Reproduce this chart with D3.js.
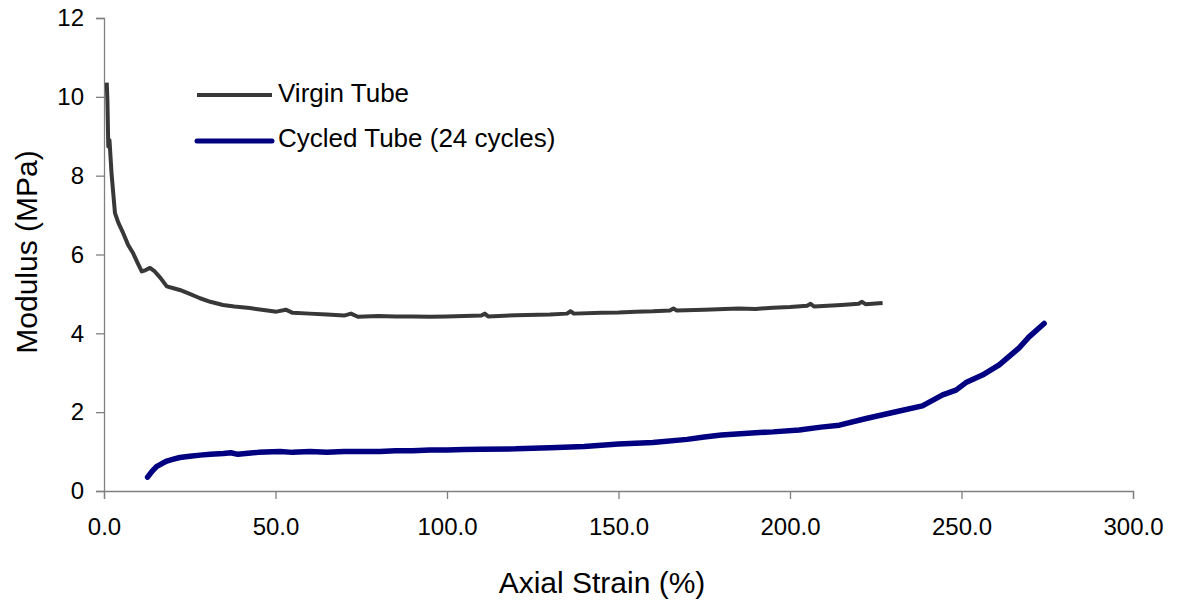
<!DOCTYPE html>
<html><head><meta charset="utf-8">
<script src="https://cdn.jsdelivr.net/npm/d3@7"></script>
<style>body{margin:0;background:#fff}svg{display:block}</style>
</head><body>
<script>
const xTicks = [0, 50, 100, 150, 200, 250, 300];
const yTicks = [0, 2, 4, 6, 8, 10, 12];
const seriesNames = ["Virgin Tube", "Cycled Tube (24 cycles)"];

const virginStrain = [0.8,1.0,1.25,1.6,2.2,2.7,3.2,4.2,5.6,7.0,8.5,10,11,12,13.4,14.8,16.5,18.3,20,22.1,25,28,31,34.7,38,42.5,46,50.3,53,55,60,65,70,72,74,80,85,90,95,100,105,110,111,112,120,130,135,136,137,145,150,155,160,165,166,167,175,185,190,195,200,205,206,207,215,220,221,222,227];
const virginModulus = [10.36,9.9,8.74,8.9,8.06,7.55,7.05,6.8,6.54,6.25,6.03,5.75,5.57,5.6,5.66,5.57,5.4,5.19,5.15,5.10,5.0,4.89,4.8,4.72,4.68,4.64,4.6,4.55,4.6,4.52,4.5,4.48,4.45,4.5,4.42,4.44,4.43,4.43,4.42,4.43,4.44,4.45,4.5,4.43,4.46,4.48,4.5,4.56,4.5,4.52,4.53,4.55,4.56,4.58,4.63,4.58,4.6,4.63,4.62,4.65,4.67,4.7,4.75,4.68,4.72,4.75,4.8,4.74,4.77];

const cycledStrain = [12.7,14,15.3,17,18.3,20,22.1,25,28,31,34.8,37,39,42,45,51.3,55,60,65,70,75,80.4,85,90,95,100,105,110,120,130,140,150,160,170,175,180,190,195,202.7,209,214.4,222.2,231.9,238.6,244.5,248.4,251.3,256.1,261,266.8,269.7,274.1];
const cycledModulus = [0.35,0.5,0.62,0.7,0.76,0.8,0.85,0.88,0.91,0.93,0.95,0.97,0.93,0.96,0.98,1.0,0.98,1.0,0.98,1.0,1.0,1.0,1.02,1.02,1.04,1.04,1.05,1.06,1.07,1.1,1.13,1.19,1.23,1.31,1.37,1.42,1.48,1.5,1.55,1.62,1.67,1.84,2.03,2.16,2.44,2.56,2.75,2.94,3.20,3.63,3.91,4.25];

const W = 1181, H = 607;
const svg = d3.select("body").append("svg").attr("width", W).attr("height", H);
const font = "Liberation Sans, Arial, sans-serif";

const x = d3.scaleLinear().domain([0, 300]).range([104, 1133]);
const y = d3.scaleLinear().domain([0, 12]).range([491, 18]);

// axes
const xAxis = svg.append("g").attr("transform", `translate(0,${y(0)})`)
  .call(d3.axisBottom(x).tickValues(xTicks).tickFormat(d3.format(".1f")).tickSizeOuter(0).tickSize(8).tickPadding(19));
const yAxis = svg.append("g").attr("transform", `translate(${x(0)},0)`)
  .call(d3.axisLeft(y).tickValues(yTicks).tickFormat(d3.format("d")).tickSizeOuter(0).tickSize(8).tickPadding(12));
[xAxis, yAxis].forEach(g => {
  g.selectAll("path,line").attr("stroke", "#808080").attr("stroke-width", 1.3);
  g.selectAll("text").attr("font-family", font).attr("font-size", 24).attr("fill", "#000");
});

// lines
const line = d3.line().x(d => x(d[0])).y(d => y(d[1]));
const virgin = virginStrain.map((s, i) => [s, virginModulus[i]]);
const cycled = cycledStrain.map((s, i) => [s, cycledModulus[i]]);

svg.append("path").datum(virgin).attr("d", line).attr("fill", "none")
  .attr("stroke", "#383838").attr("stroke-width", 4).attr("stroke-linejoin", "round");
svg.append("path").datum(cycled).attr("d", line).attr("fill", "none")
  .attr("stroke", "#000080").attr("stroke-width", 5.5).attr("stroke-linejoin", "round").attr("stroke-linecap", "round");

// legend
const legend = [
  {name: seriesNames[0], color: "#383838", w: 4, cap: "butt", y: 95, ty: 102},
  {name: seriesNames[1], color: "#000080", w: 5, cap: "round", y: 141, ty: 147}
];
legend.forEach(l => {
  svg.append("line").attr("x1", 197).attr("x2", 272).attr("y1", l.y).attr("y2", l.y)
    .attr("stroke", l.color).attr("stroke-width", l.w).attr("stroke-linecap", l.cap);
  svg.append("text").attr("x", 278).attr("y", l.ty).attr("font-family", font)
    .attr("font-size", 26).text(l.name);
});

// axis titles
svg.append("text").attr("x", 602).attr("y", 593).attr("text-anchor", "middle")
  .attr("font-family", font).attr("font-size", 30).text("Axial Strain (%)");
svg.append("text").attr("transform", "translate(37,252) rotate(-90)").attr("text-anchor", "middle")
  .attr("font-family", font).attr("font-size", 30).text("Modulus (MPa)");
</script>
</body></html>
